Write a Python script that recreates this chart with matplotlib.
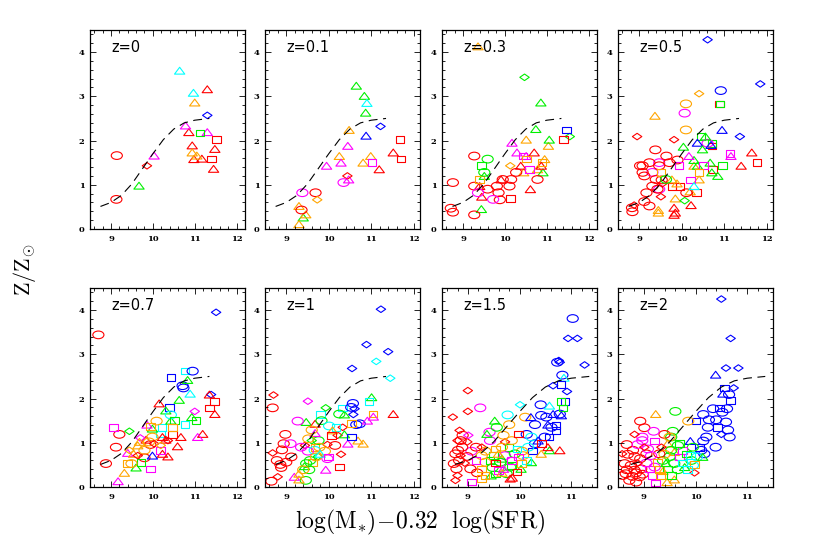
import matplotlib
matplotlib.use('Agg')
import numpy as np
import matplotlib.pyplot as plt
from matplotlib.path import Path
from matplotlib.ticker import MultipleLocator

plt.rcParams['mathtext.fontset'] = 'cm'

# point code: first char = colour (r red, O orange, g green, c cyan, b blue, m magenta)
#             second char = symbol (o circle, ^ triangle, s square, D diamond)
labels = ['z=0', 'z=0.1', 'z=0.3', 'z=0.5', 'z=0.7', 'z=1', 'z=1.5', 'z=2']

pts_z0 = [
    (10.64, 3.58, 'c^'), (11.30, 3.16, 'r^'), (10.97, 3.08, 'c^'), (11.00, 2.86, 'O^'),
    (11.30, 2.57, 'bD'), (10.78, 2.34, 'm^'), (10.86, 2.19, 'r^'), (11.13, 2.17, 'gs'),
    (11.30, 2.19, 'm^'), (11.52, 2.02, 'rs'), (10.94, 1.89, 'r^'), (11.48, 1.81, 'r^'),
    (10.94, 1.73, 'O^'), (11.05, 1.66, 'O^'), (10.98, 1.58, 'r^'), (11.17, 1.59, 'r^'),
    (11.40, 1.58, 'rs'), (11.45, 1.36, 'r^'), (9.14, 1.66, 'ro'), (10.03, 1.66, 'm^'),
    (9.86, 1.43, 'rD'), (9.67, 0.98, 'g^'), (9.13, 0.67, 'ro'),
]

pts_z01 = [
    (10.65, 3.24, 'g^'), (10.84, 3.01, 'g^'), (10.90, 2.85, 'c^'), (10.87, 2.63, 'g^'),
    (10.48, 2.24, 'O^'), (11.22, 2.32, 'bD'), (10.88, 2.11, 'b^'), (11.68, 2.02, 'rs'),
    (10.45, 1.88, 'm^'), (11.52, 1.73, 'r^'), (10.25, 1.65, 'O^'), (10.99, 1.65, 'O^'),
    (11.70, 1.58, 'rs'), (10.29, 1.50, 'm^'), (10.81, 1.50, 'O^'), (11.02, 1.50, 'ms'),
    (9.95, 1.43, 'm^'), (11.19, 1.35, 'r^'), (10.44, 1.20, 'rD'), (10.47, 1.12, 'm^'),
    (10.35, 1.05, 'mo'), (9.38, 0.82, 'mo'), (9.69, 0.82, 'ro'), (9.73, 0.66, 'OD'),
    (9.30, 0.52, 'O^'), (9.36, 0.43, 'ro'), (9.46, 0.33, 'O^'), (9.40, 0.26, 'g^'),
    (9.30, 0.11, 'O^'),
]

pts_z03 = [
    (9.36, 4.13, 'O^'), (10.47, 3.43, 'gD'), (10.86, 2.86, 'g^'), (10.74, 2.26, 'g^'),
    (11.47, 2.24, 'bs'), (11.55, 2.09, 'gD'), (11.06, 2.02, 'g^'), (10.51, 2.02, 'O^'),
    (11.40, 2.02, 'rs'), (10.17, 1.95, 'm^'), (11.04, 1.88, 'O^'), (10.29, 1.73, 'm^'),
    (10.70, 1.73, 'r^'), (10.43, 1.65, 'ms'), (10.51, 1.65, 'm^'), (9.27, 1.65, 'ro'),
    (10.51, 1.58, 'Os'), (9.59, 1.58, 'go'), (10.95, 1.58, 'O^'), (10.89, 1.50, 'Os'),
    (9.44, 1.43, 'gs'), (10.13, 1.43, 'OD'), (10.38, 1.43, 'r^'), (10.87, 1.43, 'r^'),
    (10.59, 1.35, 'ms'), (10.78, 1.35, 'O^'), (9.51, 1.28, 'go'), (10.91, 1.28, 'g^'),
    (10.27, 1.28, 'ro'), (10.45, 1.28, 'O^'), (9.51, 1.20, 'g^'), (9.40, 1.12, 'Os'),
    (9.91, 1.12, 'r^'), (9.95, 1.12, 'ro'), (10.15, 1.12, 'ro'), (10.78, 1.12, 'ro'),
    (8.76, 1.05, 'ro'), (9.81, 0.97, 'ro'), (9.27, 0.97, 'ro'), (10.11, 0.97, 'ro'),
    (9.40, 0.97, 'r^'), (10.61, 0.90, 'r^'), (9.59, 0.90, 'ro'), (9.85, 0.82, 'ro'),
    (9.36, 0.82, 'mo'), (9.45, 0.73, 'r^'), (9.72, 0.67, 'mo'), (9.88, 0.66, 'ro'),
    (10.13, 0.69, 'rs'), (8.71, 0.47, 'ro'), (8.76, 0.38, 'ro'), (9.44, 0.45, 'g^'),
    (9.27, 0.32, 'ro'),
]

pts_z05 = [
    (10.61, 4.28, 'bD'), (11.85, 3.28, 'bD'), (10.92, 3.13, 'bo'), (10.41, 3.06, 'OD'),
    (10.89, 2.83, 'rs'), (10.90, 2.83, 'gs'), (10.10, 2.83, 'Oo'), (10.07, 2.62, 'mo'),
    (9.37, 2.56, 'O^'), (10.10, 2.24, 'Oo'), (10.95, 2.24, 'b^'), (8.95, 2.09, 'rD'),
    (11.37, 2.09, 'bD'), (10.45, 2.09, 'gs'), (10.56, 2.09, 'g^'), (9.82, 2.02, 'rD'),
    (10.04, 1.86, 'g^'), (10.37, 1.95, 'b^'), (10.61, 1.94, 'mo'), (10.71, 1.94, 'gs'),
    (10.69, 1.90, 'b^'), (10.71, 1.88, 'rs'), (9.38, 1.79, 'ro'), (10.49, 1.80, 'g^'),
    (11.65, 1.73, 'r^'), (11.14, 1.71, 'ms'), (11.16, 1.65, 'm^'), (10.17, 1.65, 'm^'),
    (9.64, 1.65, 'ro'), (11.77, 1.50, 'rs'), (10.67, 1.50, 'g^'), (11.40, 1.43, 'r^'),
    (10.96, 1.43, 'gs'), (9.47, 1.50, 'mo'), (9.24, 1.50, 'ro'), (9.08, 1.43, 'ro'),
    (9.71, 1.50, 'ro'), (9.90, 1.56, 'ro'), (10.29, 1.56, 'g^'), (9.94, 1.43, 'ms'),
    (10.29, 1.43, 'O^'), (10.37, 1.43, 'g^'), (10.51, 1.43, 'ms'), (9.02, 1.43, 'ro'),
    (10.41, 1.28, 'Os'), (9.31, 1.28, 'mo'), (9.08, 1.28, 'ro'), (9.47, 1.43, 'ro'),
    (9.51, 1.28, 'Os'), (10.73, 1.34, 'rs'), (10.71, 1.28, 'g^'), (10.85, 1.20, 'g^'),
    (9.12, 1.20, 'ro'), (9.39, 1.12, 'ro'), (9.63, 1.12, 'go'), (9.77, 1.12, 'O^'),
    (9.53, 1.11, 'ro'), (10.21, 1.11, 'ms'), (10.41, 1.12, 'O^'), (9.31, 0.97, 'ro'),
    (10.29, 0.97, 'c^'), (9.77, 0.96, 'rs'), (9.96, 0.96, 'rs'), (9.89, 1.03, 'O^'),
    (9.43, 0.90, 'ro'), (9.47, 0.90, 'mo'), (9.55, 1.03, 'rD'), (9.17, 0.82, 'ro'),
    (10.11, 0.82, 'ro'), (10.35, 0.82, 'rs'), (10.20, 0.85, 'O^'), (9.51, 0.73, 'rD'),
    (9.85, 0.69, 'O^'), (9.12, 0.62, 'ro'), (10.07, 0.64, 'gD'), (9.24, 0.52, 'ro'),
    (8.88, 0.54, 'rD'), (10.22, 0.54, 'r^'), (8.84, 0.39, 'ro'), (9.45, 0.43, 'O^'),
    (9.45, 0.37, 'O^'), (9.82, 0.48, 'r^'), (9.85, 0.37, 'r^'), (9.82, 0.32, 'r^'),
    (8.83, 0.48, 'ro'),
]

pts_z07 = [
    (11.51, 3.95, 'bD'), (8.70, 3.44, 'ro'), (10.77, 2.62, 'cs'), (10.95, 2.62, 'bo'),
    (10.43, 2.47, 'bs'), (10.83, 2.42, 'g^'), (10.71, 2.29, 'bo'), (10.73, 2.24, 'bo'),
    (10.89, 2.11, 'c^'), (11.39, 2.09, 'bD'), (11.35, 2.09, 'r^'), (11.47, 1.94, 'rs'),
    (10.63, 1.97, 'g^'), (10.15, 1.89, 'r^'), (11.35, 1.79, 'rs'), (10.40, 1.80, 'bs'),
    (10.31, 1.73, 'g^'), (11.00, 1.71, 'mD'), (11.48, 1.65, 'r^'), (10.43, 1.63, 'co'),
    (10.93, 1.58, 'g^'), (11.03, 1.50, 'gs'), (10.43, 1.50, 'g^'), (10.51, 1.50, 'gs'),
    (10.77, 1.41, 'cs'), (10.09, 1.49, 'Oo'), (9.86, 1.41, 'm^'), (9.94, 1.37, 'Os'),
    (10.22, 1.35, 'cs'), (10.47, 1.35, 'Os'), (9.99, 1.32, 'g^'), (9.06, 1.35, 'ms'),
    (9.44, 1.26, 'gD'), (9.20, 1.19, 'ro'), (11.19, 1.20, 'r^'), (10.67, 1.13, 'r^'),
    (11.07, 1.13, 'm^'), (10.19, 1.20, 'cs'), (10.47, 1.19, 'rs'), (10.23, 1.13, 'r^'),
    (9.99, 1.13, 'Oo'), (9.68, 1.02, 'O^'), (9.84, 1.07, 'r^'), (10.31, 1.07, 'r^'),
    (9.70, 1.11, 'mD'), (9.91, 1.02, 'Oo'), (9.94, 0.96, 'ro'), (10.03, 0.98, 'rD'),
    (9.64, 0.94, 'O^'), (9.12, 0.90, 'ro'), (10.19, 0.94, 'OD'), (10.59, 0.92, 'r^'),
    (10.36, 1.05, 'rD'), (9.44, 0.83, 'OD'), (9.80, 0.83, 'Oo'), (10.19, 0.83, 'ms'),
    (9.40, 0.77, 'm^'), (9.54, 0.75, 'O^'), (9.64, 0.71, 'rD'), (10.23, 0.75, 'r^'),
    (10.36, 0.69, 'r^'), (9.99, 0.71, 'b^'), (9.80, 0.66, 'ro'), (9.72, 0.56, 'gs'),
    (9.49, 0.53, 'Oo'), (8.88, 0.53, 'ro'), (9.40, 0.53, 'Os'), (9.60, 0.44, 'g^'),
    (9.94, 0.41, 'ms'), (9.32, 0.32, 'O^'), (9.17, 0.13, 'm^'),
]

pts_z1 = [
    (11.23, 4.02, 'bD'), (10.89, 3.22, 'bD'), (11.40, 3.06, 'bD'), (11.12, 2.84, 'cD'),
    (10.55, 2.68, 'bD'), (11.45, 2.46, 'cD'), (8.70, 2.08, 'rD'), (11.01, 2.03, 'g^'),
    (10.95, 1.94, 'cs'), (9.51, 1.94, 'mD'), (8.68, 1.79, 'ro'), (10.57, 1.89, 'bo'),
    (10.53, 1.80, 'bo'), (9.93, 1.79, 'gD'), (10.33, 1.79, 'cs'), (10.61, 1.77, 'bD'),
    (11.52, 1.65, 'r^'), (11.04, 1.65, 'Os'), (10.58, 1.64, 'bD'), (10.25, 1.65, 'go'),
    (11.05, 1.59, 'm^'), (9.80, 1.64, 'cs'), (10.37, 1.64, 'g^'), (10.91, 1.50, 'm^'),
    (9.27, 1.49, 'mo'), (9.47, 1.47, 'g^'), (9.68, 1.43, 'r^'), (9.83, 1.50, 'go'),
    (10.73, 1.43, 'bo'), (10.65, 1.41, 'bo'), (10.53, 1.43, 'Os'), (10.01, 1.38, 'co'),
    (10.33, 1.35, 'rD'), (10.17, 1.35, 'cs'), (9.60, 1.29, 'Oo'), (9.68, 1.22, 'm^'),
    (10.09, 1.28, 'O^'), (8.98, 1.19, 'ro'), (10.07, 1.17, 'rs'), (10.21, 1.17, 'rD'),
    (10.37, 1.19, 'g^'), (10.53, 1.13, 'bs'), (10.69, 1.05, 'O^'), (10.81, 0.98, 'O^'),
    (10.45, 0.98, 'm^'), (9.52, 1.09, 'Oo'), (9.76, 1.05, 'go'), (8.94, 0.98, 'ro'),
    (9.10, 0.98, 'mo'), (9.60, 1.05, 'gD'), (9.35, 0.90, 'mo'), (9.44, 0.94, 'rD'),
    (8.90, 0.84, 'ro'), (9.78, 0.90, 'Oo'), (9.97, 0.96, 'rD'), (10.15, 0.94, 'ro'),
    (9.67, 0.83, 'co'), (9.51, 0.81, 'mo'), (9.91, 0.81, 'Oo'), (9.12, 0.68, 'ro'),
    (8.68, 0.77, 'rD'), (9.00, 0.56, 'ro'), (8.78, 0.60, 'ro'), (8.86, 0.51, 'ro'),
    (8.88, 0.44, 'ro'), (9.97, 0.64, 'mo'), (9.70, 0.68, 'Oo'), (9.56, 0.60, 'go'),
    (10.29, 0.74, 'rD'), (10.25, 0.45, 'rs'), (9.93, 0.39, 'm^'), (9.47, 0.53, 'go'),
    (9.62, 0.56, 'Os'), (9.43, 0.47, 'g^'), (9.40, 0.39, 'Oo'), (9.54, 0.39, 'go'),
    (9.30, 0.30, 'O^'), (8.80, 0.23, 'rD'), (9.19, 0.23, 'm^'), (8.65, 0.13, 'ro'),
    (9.46, 0.15, 'go'), (9.30, 0.17, 'O^'), (9.80, 0.75, 'c^'), (9.75, 0.69, 'gD'),
    (9.68, 0.90, 'Os'), (10.00, 0.68, 'ms'),
]

pts_z15 = [
    (11.03, 3.81, 'bo'), (10.94, 3.36, 'bD'), (11.12, 3.36, 'bD'), (10.76, 2.86, 'bD'),
    (10.78, 2.82, 'bD'), (10.73, 2.82, 'bo'), (11.26, 2.76, 'bD'), (10.83, 2.53, 'bo'),
    (10.86, 2.47, 'c^'), (10.80, 2.32, 'bs'), (10.65, 2.29, 'bD'), (9.00, 2.18, 'rD'),
    (10.92, 2.16, 'bD'), (10.80, 1.94, 'gs'), (10.88, 1.94, 'bs'), (10.84, 1.79, 'gs'),
    (9.00, 1.71, 'rD'), (9.24, 1.79, 'mo'), (10.01, 1.86, 'cD'), (10.41, 1.86, 'bo'),
    (10.58, 1.84, 'c^'), (8.71, 1.58, 'rD'), (9.77, 1.63, 'co'), (10.11, 1.58, 'Oo'),
    (10.22, 1.58, 'b^'), (10.42, 1.62, 'bo'), (10.52, 1.58, 'bo'), (10.65, 1.65, 'b^'),
    (10.78, 1.65, 'bo'), (10.81, 1.62, 'b^'), (9.52, 1.50, 'g^'), (9.56, 1.35, 'go'),
    (9.80, 1.41, 'Oo'), (10.30, 1.41, 'bo'), (10.71, 1.39, 'bs'), (10.62, 1.35, 'bo'),
    (10.55, 1.41, 'b^'), (8.84, 1.28, 'rD'), (8.90, 1.17, 'ro'), (9.01, 1.17, 'mD'),
    (9.37, 1.20, 'g^'), (9.42, 1.24, 'mo'), (9.69, 1.17, 'Oo'), (9.98, 1.20, 'rs'),
    (10.14, 1.19, 'bo'), (10.23, 1.13, 'co'), (10.49, 1.13, 'bo'), (10.71, 1.28, 'bs'),
    (10.57, 1.13, 'bs'), (8.86, 1.05, 'ro'), (8.99, 1.02, 'rD'), (9.43, 1.05, 'mo'),
    (9.72, 1.02, 'rD'), (9.85, 1.05, 'Oo'), (10.30, 0.98, 'bo'), (10.42, 0.98, 'rs'),
    (10.36, 1.05, 'b^'), (9.16, 0.90, 'ro'), (9.07, 0.81, 'mo'), (9.34, 0.81, 'Oo'),
    (9.27, 0.90, 'rD'), (9.80, 0.90, 'gs'), (9.95, 0.86, 'cs'), (10.55, 0.90, 'r^'),
    (10.58, 0.83, 'g^'), (10.78, 0.83, 'r^'), (10.25, 0.81, 'bs'), (10.05, 0.81, 'Oo'),
    (8.76, 0.75, 'ro'), (8.86, 0.71, 'rD'), (8.99, 0.69, 'ro'), (9.16, 0.60, 'ms'),
    (9.27, 0.71, 'Oo'), (9.50, 0.71, 'gs'), (9.59, 0.75, 'O^'), (9.72, 0.71, 'mo'),
    (9.91, 0.75, 'go'), (10.07, 0.71, 'Oo'), (10.42, 0.75, 'O^'), (8.83, 0.60, 'ro'),
    (8.94, 0.54, 'rD'), (8.73, 0.53, 'ro'), (9.34, 0.56, 'Oo'), (9.43, 0.60, 'gs'),
    (9.63, 0.56, 'go'), (9.85, 0.60, 'ms'), (10.23, 0.56, 'g^'), (9.53, 0.54, 'rs'),
    (8.78, 0.41, 'ro'), (9.05, 0.41, 'ro'), (9.27, 0.41, 'Os'), (9.48, 0.44, 'go'),
    (9.69, 0.41, 'm^'), (10.03, 0.41, 'g^'), (9.18, 0.32, 'ro'), (8.80, 0.26, 'rD'),
    (9.33, 0.26, 'Os'), (9.54, 0.29, 'gs'), (9.66, 0.32, 'O^'), (9.86, 0.21, 'r^'),
    (8.76, 0.15, 'rD'), (9.07, 0.11, 'ms'), (9.26, 0.19, 'Os'), (9.82, 0.19, 'r^'),
    (9.85, 0.49, 'gs'), (10.14, 0.60, 'cs'), (10.04, 0.53, 'Os'), (9.95, 0.34, 'rs'),
    (9.75, 0.30, 'go'), (9.45, 0.26, 'g^'), (9.59, 0.38, 'ms'), (8.80, 1.05, 'rD'),
    (8.81, 0.83, 'ro'), (8.89, 0.90, 'ro'), (9.53, 0.86, 'Os'), (9.66, 0.64, 'g^'),
    (9.82, 0.45, 'go'), (9.66, 0.90, 'Oo'), (9.98, 0.68, 'ms'), (10.17, 0.90, 'co'),
]

pts_z2 = [
    (10.50, 4.25, 'bD'), (10.68, 3.36, 'bD'), (10.59, 2.69, 'bD'), (10.83, 2.69, 'bD'),
    (10.39, 2.54, 'b^'), (10.56, 2.24, 'bs'), (10.74, 2.24, 'bD'), (10.53, 2.11, 'b^'),
    (10.65, 2.09, 'bo'), (10.68, 1.95, 'bs'), (9.23, 1.65, 'O^'), (9.61, 1.71, 'go'),
    (10.34, 1.77, 'bo'), (10.46, 1.79, 'bs'), (10.61, 1.77, 'bo'), (10.52, 1.69, 'bo'),
    (10.15, 1.64, 'bo'), (8.93, 1.49, 'ro'), (9.86, 1.49, 'Oo'), (10.01, 1.49, 'bs'),
    (10.40, 1.52, 'bo'), (10.26, 1.52, 'bo'), (10.59, 1.47, 'bo'), (9.01, 1.34, 'ro'),
    (10.24, 1.35, 'bo'), (10.43, 1.35, 'bs'), (10.63, 1.29, 'bo'), (9.19, 1.26, 'mo'),
    (8.82, 1.19, 'rD'), (10.50, 1.19, 'bD'), (10.21, 1.13, 'bo'), (10.66, 1.13, 'bo'),
    (9.56, 1.26, 'go'), (9.53, 1.13, 'go'), (8.97, 1.13, 'mo'), (9.40, 1.19, 'ro'),
    (9.21, 1.04, 'ms'), (9.90, 1.04, 'b^'), (10.15, 1.04, 'bo'), (8.67, 0.96, 'ro'),
    (8.88, 0.96, 'mo'), (9.01, 0.90, 'rD'), (9.08, 0.86, 'mo'), (9.34, 0.90, 'rD'),
    (9.46, 0.98, 'O^'), (9.66, 0.94, 'go'), (9.75, 0.83, 'ms'), (10.39, 0.90, 'bo'),
    (10.11, 0.83, 'bo'), (9.95, 0.90, 'go'), (10.17, 0.75, 'bo'), (8.69, 0.74, 'ro'),
    (8.82, 0.69, 'ro'), (8.58, 0.75, 'rD'), (8.93, 0.64, 'ro'), (9.14, 0.71, 'mo'),
    (9.40, 0.74, 'Oo'), (9.50, 0.69, 'go'), (9.59, 0.79, 'O^'), (9.69, 0.68, 'ms'),
    (9.82, 0.75, 'gs'), (10.03, 0.68, 'co'), (9.92, 0.60, 'go'), (8.63, 0.53, 'ro'),
    (8.75, 0.49, 'ro'), (8.88, 0.54, 'rD'), (9.05, 0.54, 'mo'), (9.27, 0.56, 'Os'),
    (9.43, 0.54, 'g^'), (9.59, 0.53, 'go'), (9.75, 0.54, 'cs'), (9.98, 0.51, 'Os'),
    (8.67, 0.39, 'ro'), (8.82, 0.38, 'ro'), (8.95, 0.41, 'ro'), (9.11, 0.41, 'ms'),
    (9.30, 0.39, 'Os'), (9.46, 0.41, 'gs'), (9.66, 0.39, 'go'), (9.85, 0.39, 'cs'),
    (8.59, 0.26, 'ro'), (8.78, 0.24, 'ro'), (8.92, 0.23, 'ro'), (9.17, 0.26, 'ms'),
    (9.32, 0.26, 'Os'), (9.53, 0.26, 'gs'), (9.98, 0.32, 'rD'), (8.72, 0.15, 'ro'),
    (8.85, 0.11, 'ro'), (9.23, 0.09, 'ms'), (9.45, 0.11, 'O^'), (9.59, 0.17, 'O^'),
    (8.65, 0.30, 'ro'), (8.85, 0.32, 'ro'), (8.98, 0.29, 'ro'), (9.37, 0.36, 'O^'),
    (9.21, 0.45, 'mo'), (9.53, 0.83, 'go'), (9.69, 0.98, 'gs'), (9.90, 0.71, 'cs'),
    (9.79, 0.45, 'g^'), (10.08, 0.90, 'bs'), (10.14, 0.68, 'g^'), (8.79, 0.83, 'ro'),
    (9.05, 0.75, 'ro'), (9.50, 1.13, 'Oo'), (9.30, 0.75, 'ro'), (8.97, 1.05, 'mo'),
    (9.95, 0.49, 'co'), (9.37, 0.60, 'go'),
]

panels = [pts_z0, pts_z01, pts_z03, pts_z05, pts_z07, pts_z1, pts_z15, pts_z2]
xmax = [12.2, 12.15, 12.2, 12.15, 12.2, 12.15, 11.5, 11.5]

# local relation (dashed curve)
curve_x = [8.75, 9.0, 9.25, 9.5, 9.75, 10.0, 10.25, 10.5, 10.75, 11.0, 11.35]
curve_y = [0.51, 0.60, 0.76, 1.02, 1.36, 1.70, 2.02, 2.26, 2.40, 2.46, 2.50]

colours = {'r': '#ff0000', 'O': '#ffa500', 'g': '#00f000', 'c': '#00ffff',
           'b': '#0000ff', 'm': '#ff00ff'}


def shape(verts):
    return Path(np.asarray(verts, float), closed=True)


circ = Path.unit_circle()
ellipse = Path(circ.vertices * [1.45, 1.0], circ.codes)
markers = {
    'o': (ellipse, 8.0),
    '^': (shape([(-0.75, -0.5), (0.75, -0.5), (0.0, 0.5), (-0.75, -0.5)]), 7.4),
    's': (shape([(-0.65, -0.5), (0.65, -0.5), (0.65, 0.5), (-0.65, 0.5), (-0.65, -0.5)]), 6.2),
    'D': (shape([(0.0, 0.5), (0.72, 0.0), (0.0, -0.5), (-0.72, 0.0), (0.0, 0.5)]), 6.8),
}

fig = plt.figure(figsize=(8.17, 5.45), dpi=100)
lefts = [90, 265, 442, 618]
W, H = 817.0, 545.0

for i, pts in enumerate(panels):
    row, col = divmod(i, 4)
    bottom_px = 229 if row == 0 else 487
    ax = fig.add_axes([lefts[col] / W, (H - bottom_px) / H, 155 / W, 199 / H])

    ax.plot(curve_x, curve_y, color='black', lw=0.8, dashes=(8, 5))

    groups = {}
    for x, y, code in pts:
        groups.setdefault(code, []).append((x, y))
    for code, xy in groups.items():
        xy = np.array(xy)
        path, size = markers[code[1]]
        ax.scatter(xy[:, 0], xy[:, 1], marker=path, s=size ** 2,
                   facecolors='none', edgecolors=colours[code[0]], linewidths=0.8)

    ax.set_xlim(8.5, xmax[i])
    ax.set_ylim(0, 4.5)
    ax.set_xticks([9, 10, 11, 12] if xmax[i] > 12 else [9, 10, 11])
    ax.set_yticks([0, 1, 2, 3, 4])
    ax.xaxis.set_minor_locator(MultipleLocator(0.2))
    ax.yaxis.set_minor_locator(MultipleLocator(0.2))
    ax.tick_params(which='both', direction='in', top=True, right=True, width=0.6)
    ax.tick_params(which='major', length=4, labelsize=6, pad=4)
    ax.tick_params(which='minor', length=2)
    for lab in ax.get_xticklabels() + ax.get_yticklabels():
        lab.set_fontweight('bold')
        lab.set_family('DejaVu Serif')
    for sp in ax.spines.values():
        sp.set_linewidth(0.9)

    ax.text(0.135, 0.91, labels[i], transform=ax.transAxes, fontsize=10.5,
            va='center', ha='left')

fig.text(25 / W, 1 - 270 / H, r'$\mathrm{Z/Z_{\odot}}$', rotation=90,
         fontsize=16, ha='center', va='center')
fig.text(420 / W, 1 - 522 / H, r'$\mathrm{log(M_{*})\!-\!0.32\ \ log(SFR)}$',
         fontsize=17, ha='center', va='center')

fig.savefig('out.png', dpi=100)
